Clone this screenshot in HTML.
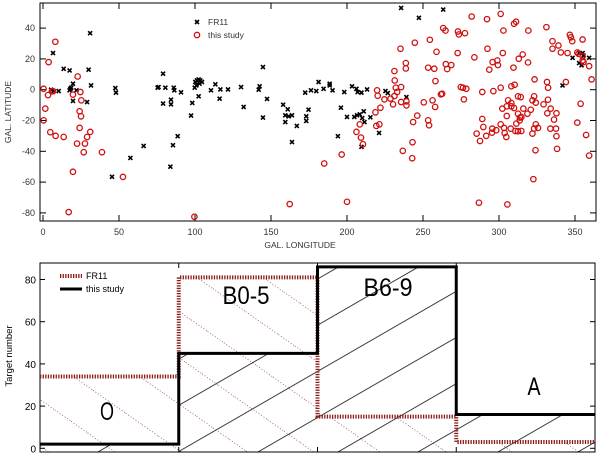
<!DOCTYPE html>
<html><head><meta charset="utf-8"><style>
html,body{margin:0;padding:0;background:#fff;}
svg{display:block;font-family:"Liberation Sans",sans-serif;}
</style></head><body>
<svg id="c" width="600" height="456" viewBox="0 0 600 456" xmlns="http://www.w3.org/2000/svg">
<defs>
<pattern id="hatchBlack" patternUnits="userSpaceOnUse" width="20" height="40" patternTransform="rotate(-30)">
<line x1="0" y1="0" x2="20" y2="0" stroke="#000" stroke-width="1.4"/>
</pattern>
<pattern id="hatchRed" patternUnits="userSpaceOnUse" width="20" height="38" patternTransform="rotate(35)">
<line x1="0" y1="0" x2="20" y2="0" stroke="#8b1a1a" stroke-width="1.2" stroke-dasharray="1,2"/>
</pattern>
</defs>
<g id="topPlot"></g>
<g id="botPlot"></g>
</svg>
<script>
// ---------- Top scatter data ----------
const fr11Lon = [6.6,31,13.6,17.5,30,31.6,19.7,18,18.6,17.5,22,5.3,10.3,7,19.7,29,47.6,48,45.4,57.5,66.2,75.4,76,79,80.5,86,86.4,79,84.2,84.2,90.8,85.5,88.6,83.8,98.2,97.4,99.8,100.2,101.3,102.4,103.5,104.6,103,100.9,102.4,110.5,113.4,116.7,116.2,121.7,130.3,132,141.9,142.5,147.4,144.7,144.7,158,161,159.4,161.6,163.8,159.4,163.8,167,
235.6,263.3,247.3,172.5,176.3,179.8,181.3,184.6,188.6,188.6,190.5,198.2,203.3,206.2,207,209.5,213.2,225.3,226.8,239.1,174.7,173.2,173.2,196,200,204.8,206.6,208.4,211,210,211.5,215.4,194,221.1,209.5,348.4,352.7,355,355.6,352.7,354.3,359.3,341.8];
const fr11Lat = [23.8,36.7,13.6,12.5,13,2.8,3.9,0.6,1.3,-0.4,-0.4,0,-0.9,-0.9,-7.3,-8,1.1,-1.9,-56.6,-44.3,-36.5,1.3,1.7,10.4,1.3,1.3,-0.4,-9,-6.5,-9.5,-1.7,-36,-30.2,-50,-8.6,-16.8,1.3,5,6,6.7,6,5,3.9,2.8,-4.3,-0.4,3.5,0.2,-5.8,0.2,1.7,-11.2,0,2.2,-6,14.7,-18.1,-9.7,-12.7,-16.6,-17.3,-16.6,-21,-34,-23.5,
53.1,52,46.7,-1.9,-0.4,-0.9,5,0.6,2.8,3.9,-0.4,-1.5,2.2,0.6,-1.5,-1.9,0.2,-0.9,-2.2,-4.8,-13,-17.3,-20.3,-11.7,-17.7,-17.7,-16.6,-16,-14,-18.4,-21,-17.9,-30.2,-28.1,-37.1,20.7,23.8,23.8,22.2,17.3,15.8,20.7,2.8];
const studyLon = [8.1,3.7,22.8,0.4,3.3,6.6,5.9,19.7,24.6,25.2,1.5,0.4,24.1,25,24.1,4.8,8.3,13.6,31.1,29,22.4,27.6,26.8,38.8,19.7,52.6,16.9,99.6,162.3,
282,292.1,301.1,302.9,309.9,311.2,263.3,264.8,273,273.6,277.6,319.3,331.2,346.6,347.3,348.2,355,335.2,335.2,339.1,340.7,345.1,351.5,352.3,355,355,355.6,359.3,360.9,244.6,254.5,235.2,258.9,272.8,283.8,292.4,302.5,313,315.6,319.1,265,265.9,268.6,253.4,257.4,231.2,231.4,232.1,238.7,238.7,295.8,298.9,299.3,293.6,309.5,323.4,331.6,332.3,344,258.2,261.8,262.6,235.6,233,231.2,228.6,219.8,220.2,224.6,230.3,235.6,239.1,239.1,250.5,256.3,258,274.9,276.3,278.5,276.9,289,296.3,301.1,308.1,310.3,312.5,314.3,306,308.1,309.9,302.2,305.1,308.1,312.5,313.8,316,318.7,320.9,323.1,324.2,322,329.3,332.2,334,331.8,337.8,336.2,337.5,337.8,338.2,322,323.1,324.2,325.7,324,333.8,305.1,301.1,303.3,303.7,304.8,295.6,298.2,295.4,289,289.7,291.6,285.3,287.5,307.7,311.4,310.8,312.5,314.7,313.6,314.7,322.6,351.5,353.7,357.3,359.3,243.5,246.2,253.4,254,243.1,236.7,242.9,218.7,222,219.3,221.3,208.4,206.2,209.2,210.5,196.5,185,200,286.8,305.5];
const studyLat = [31.1,17.9,8.6,0.6,-3.5,-1,-1,-3.2,-1.5,-6.9,-12.3,-19.9,-14,-17.3,-24.8,-27.6,-30,-30.7,-27.4,-30.7,-35,-35,-40.6,-40.6,-53.3,-56.6,-79.5,-82.5,-74.3,
47.5,45.8,49.2,38.4,42.8,44.1,40,38.4,37.8,35.9,36.7,38.4,40.6,35.6,34,31.5,32.6,31.5,26.6,28.7,24.2,23.8,24.2,23.3,21.6,19,17.9,15.3,6.7,30.5,32.4,26.6,24.6,23.8,21,26.6,23.8,20.1,22.9,17.7,16.6,13.4,16,14.3,13.6,12.1,6,1.3,17.3,13.8,17.9,19,16,13,14.3,6.7,5,1.3,5,5.6,-3,-2.6,1.7,-1.5,-4.1,-5.8,-0.4,-3.9,-6.3,-9.5,-8,-7.6,-10.2,-8.2,-6.9,-11.2,1.7,1.3,0.6,-6.3,-1.5,-0.9,1.3,2.2,3.2,-4.3,-4.8,-6.9,-8.6,-11.9,-12.3,-10.8,-10.8,-15.6,-18.1,-12.3,-15.6,-13,-4.3,-8.4,-6.9,-9.5,-6.5,-12.3,-15.3,-15.3,-19.4,-25.3,-30.2,-38.4,-28.5,-25.3,-22.5,-24.8,-39.3,-25.3,-17.1,-22.5,-24.8,-28.1,-30.7,-25.3,-26.3,-27.9,-19,-24.2,-30,-28.5,-33.3,-25.3,-22,-26.8,-27,-26.8,-19.9,-17.7,-58.1,-21.4,-9.1,-29.4,-42.8,-21,-16.8,-19.9,-23.1,-34.1,-39.7,-44.5,-14.7,-11.7,-23.5,-22.5,-22.5,-27.4,-31.1,-35.4,-42.1,-47.9,-72.8,-73.4,-74.5];
const lonTicks = [0,50,100,150,200,250,300,350];
const latTicks = [-80,-60,-40,-20,0,20,40];

// ---------- Bottom histogram data ----------
const categories = ["O","B0-5","B6-9","A"];
const studyCounts = [2,45,86,16];
const fr11Counts = [34,81,15,3];
const countTicks = [0,20,40,60,80];

const NS="http://www.w3.org/2000/svg";
function mk(parent,tag,attrs,text){const e=document.createElementNS(NS,tag);for(const k in attrs)e.setAttribute(k,attrs[k]);if(text!==undefined)e.textContent=text;parent.appendChild(e);return e;}

// ---- top plot
const gTop=document.getElementById('topPlot');
const T={l:40,r:596,t:3,b:221};
const sx=lon=>43+lon*1.52;
const sy=lat=>89.7-lat*1.54;
let fr=mk(gTop,'rect',{x:T.l,y:T.t,width:T.r-T.l,height:T.b-T.t,fill:'none',stroke:'#000','stroke-width':1});


lonTicks.forEach(v=>{
  const x=sx(v);
  mk(gTop,'line',{x1:x,y1:T.b,x2:x,y2:T.b-6,stroke:'#000'});
  mk(gTop,'line',{x1:x,y1:T.t,x2:x,y2:T.t+6,stroke:'#000'});
  const t=mk(gTop,'text',{x:x,y:235,'font-size':9,'text-anchor':'middle',fill:'#333'},String(v));
  
  
});
latTicks.forEach(v=>{
  const y=sy(v);
  mk(gTop,'line',{x1:T.l,y1:y,x2:T.l+6,y2:y,stroke:'#000'});
  mk(gTop,'line',{x1:T.r,y1:y,x2:T.r-6,y2:y,stroke:'#000'});
  const t=mk(gTop,'text',{x:35,y:y+3,'font-size':9,'text-anchor':'end',fill:'#333'},String(v));
  
  
});
let xt=mk(gTop,'text',{x:300,y:248,'font-size':8.5,'text-anchor':'middle',fill:'#333'},'GAL. LONGITUDE');


let yt=mk(gTop,'text',{x:0,y:0,'font-size':8.5,'text-anchor':'middle',fill:'#333',transform:'translate(11,112) rotate(-90)'},'GAL. LATITUDE');


function cross(g,x,y){
  return mk(g,'path',{d:`M${x-2},${y-2}L${x+2},${y+2}M${x+2},${y-2}L${x-2},${y+2}`,stroke:'#000','stroke-width':1.6});
}
const gF=mk(gTop,'g',{});


fr11Lon.forEach((v,i)=>{
  const p=cross(gF,sx(v),sy(fr11Lat[i]));
  
  
});
const gS=mk(gTop,'g',{});


studyLon.forEach((v,i)=>{
  const c=mk(gS,'circle',{cx:sx(v),cy:sy(studyLat[i]),r:2.7,fill:'none',stroke:'#d01010','stroke-width':1.3});
  
  
});
const lg=mk(gTop,'g',{});


cross(lg,197,22);
mk(lg,'text',{x:208,y:25,'font-size':8.5,fill:'#333'},'FR11');
mk(lg,'circle',{cx:197,cy:35,r:2.7,fill:'none',stroke:'#d01010','stroke-width':1.3});
mk(lg,'text',{x:208,y:38,'font-size':8.5,fill:'#333'},'this study');

// ---- bottom plot
const gBot=document.getElementById('botPlot');
const B={l:40,r:595,t:263,b:452};
const bx=i=>B.l+i*(B.r-B.l)/categories.length;
const by=v=>448.3-v*2.11;
function stepPath(arr){
  let d=`M${bx(0)},${by(arr[0])}`;
  arr.forEach((v,i)=>{d+=`L${bx(i)},${by(v)}L${bx(i+1)},${by(v)}`;if(i<arr.length-1)d+=`L${bx(i+1)},${by(arr[i+1])}`;});
  return d;
}
function areaPath(arr){return stepPath(arr)+`L${bx(arr.length)},${B.b}L${bx(0)},${B.b}Z`;}
const defs=document.querySelector('defs');
const cp1=mk(defs,'clipPath',{id:'clipStudy'});mk(cp1,'path',{d:areaPath(studyCounts)});
const cp2=mk(defs,'clipPath',{id:'clipFr'});mk(cp2,'path',{d:areaPath(fr11Counts)});
let h1=mk(gBot,'rect',{x:B.l,y:B.t,width:B.r-B.l,height:B.b-B.t,fill:'url(#hatchRed)','clip-path':'url(#clipFr)'});


let h2=mk(gBot,'rect',{x:B.l,y:B.t,width:B.r-B.l,height:B.b-B.t,fill:'url(#hatchBlack)','clip-path':'url(#clipStudy)'});


let bf=mk(gBot,'rect',{x:B.l,y:B.t,width:B.r-B.l,height:B.b-B.t,fill:'none',stroke:'#000','stroke-width':1});


for(let i=1;i<categories.length;i++){mk(gBot,'line',{x1:bx(i),y1:B.b,x2:bx(i),y2:B.b-5,stroke:'#000'});mk(gBot,'line',{x1:bx(i),y1:B.t,x2:bx(i),y2:B.t+5,stroke:'#000'});}
countTicks.forEach(v=>{
  const y=by(v);
  mk(gBot,'line',{x1:B.l,y1:y,x2:B.l+5,y2:y,stroke:'#000'});
  mk(gBot,'line',{x1:B.r,y1:y,x2:B.r-5,y2:y,stroke:'#000'});
  const t=mk(gBot,'text',{x:36,y:y+4,'font-size':10,'text-anchor':'end',fill:'#000'},String(v));
  
  
});
let byt=mk(gBot,'text',{x:0,y:0,'font-size':9.5,'text-anchor':'middle',fill:'#000',transform:'translate(12,356) rotate(-90)'},'Target number');


let frl=mk(gBot,'path',{d:stepPath(fr11Counts),fill:'none',stroke:'#8b1a1a','stroke-width':4,'stroke-dasharray':'1.3,1.3'});


let stl=mk(gBot,'path',{d:stepPath(studyCounts),fill:'none',stroke:'#000','stroke-width':3});


const labPos=[[107,420,14],[246,304,47],[388,296,49],[534,395,13]];
categories.forEach((c,i)=>{
  const t=mk(gBot,'text',{x:labPos[i][0]-labPos[i][2]/2,y:labPos[i][1],'font-size':25,fill:'#000',textLength:labPos[i][2],lengthAdjust:'spacingAndGlyphs'},c);
  
  
});
const bl=mk(gBot,'g',{});


mk(bl,'line',{x1:60,y1:276,x2:82,y2:276,stroke:'#8b1a1a','stroke-width':4,'stroke-dasharray':'1.3,1.3'});
mk(bl,'text',{x:86,y:279,'font-size':9,fill:'#000'},'FR11');
mk(bl,'line',{x1:60,y1:289,x2:82,y2:289,stroke:'#000','stroke-width':3});
mk(bl,'text',{x:86,y:292,'font-size':9,fill:'#000'},'this study');
</script>
</body></html>
